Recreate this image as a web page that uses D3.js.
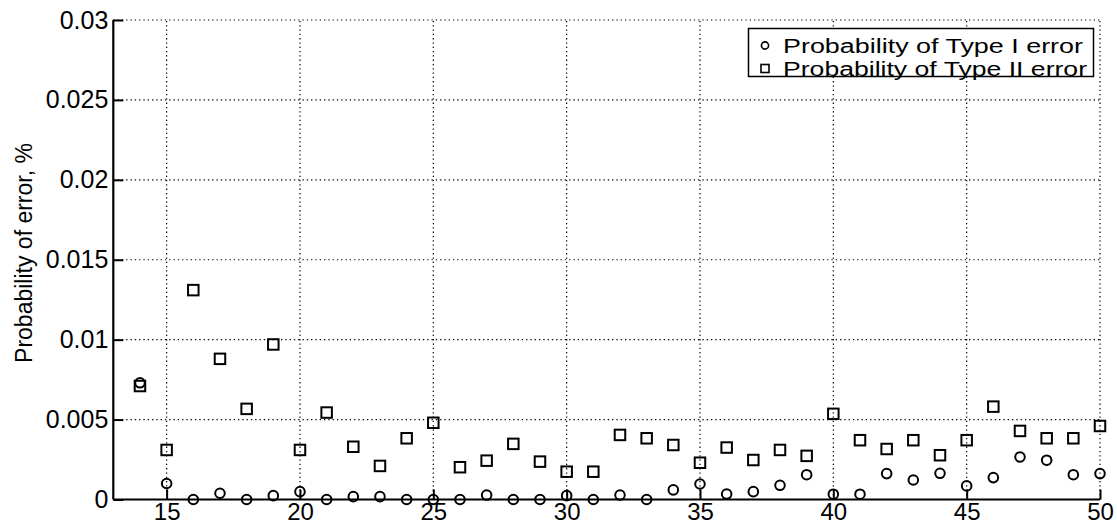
<!DOCTYPE html>
<html>
<head>
<meta charset="utf-8">
<script src="https://cdn.jsdelivr.net/npm/d3@7"></script>
<style>
  html, body { margin: 0; padding: 0; background: #fff; }
  svg { display: block; }
  text { font-family: "Liberation Sans", Arial, Helvetica, sans-serif; fill: #000; }
</style>
</head>
<body>
<svg id="chart" width="1117" height="525"></svg>
<script>
const nValues = [14,15,16,17,18,19,20,21,22,23,24,25,26,27,28,29,30,31,32,33,34,35,36,37,38,39,40,41,42,43,44,45,46,47,48,49,50];
const typeI = [0.0073,0.0010,0.0000,0.00039,0.0000,0.00024,0.00049,0.0000,0.00018,0.00018,0.0000,0.0000,
               0.0000,0.00028,0.0000,0.0000,0.00024,0.0000,0.00028,0.0000,0.0006,0.00097,0.00034,0.00049,
               0.00089,0.00155,0.00033,0.00033,0.00162,0.00122,0.00164,0.00085,0.00137,0.00266,0.00246,0.00155,0.00162];
const typeII = [0.0071,0.0031,0.0131,0.0088,0.00567,0.0097,0.0031,0.00544,0.0033,0.0021,0.00383,0.0048,
                0.00202,0.00243,0.00348,0.00237,0.00174,0.00174,0.00404,0.00383,0.00341,0.0023,0.00325,0.00247,
                0.0031,0.00273,0.00536,0.00371,0.00316,0.00371,0.00277,0.00371,0.00581,0.00429,0.00383,0.00383,0.0046];
const xTicks = [15,20,25,30,35,40,45,50];
const yTicks = [0,0.005,0.01,0.015,0.02,0.025,0.03];
const yTickLabels = ["0","0.005","0.01","0.015","0.02","0.025","0.03"];
const seriesNames = ["Probability of Type I error","Probability of Type II error"];
const yLabel = "Probability of error, %";

const svg = d3.select("#chart");
const L = 113.3, R = 1100, T = 20, B = 499.5;
const x = d3.scaleLinear().domain([13, 50]).range([L, R]);
const y = d3.scaleLinear().domain([0, 0.03]).range([B, T]);

// grid
const grid = svg.append("g").attr("stroke", "#000").attr("stroke-width", 1.2).attr("stroke-dasharray", "1.3,3");
grid.selectAll("line.vx").data(xTicks).enter().append("line")
  .attr("x1", d => x(d)).attr("x2", d => x(d)).attr("y1", B).attr("y2", T);
grid.selectAll("line.hy").data(yTicks.filter(d => d > 0)).enter().append("line")
  .attr("x1", L).attr("x2", R).attr("y1", d => y(d)).attr("y2", d => y(d));

// axes
const xAxis = d3.axisBottom(x).tickValues(xTicks).tickSize(-10).tickPadding(3).tickFormat(d3.format("d"));
const gx = svg.append("g").attr("transform", `translate(0,${B})`).call(xAxis);
gx.select(".domain").attr("d", `M${L},0H${R}`).attr("stroke-width", 2.2);
gx.selectAll(".tick line").attr("stroke-width", 2);
gx.selectAll(".tick text").attr("font-size", 24).attr("font-family", '"Liberation Sans", Arial, sans-serif').attr("dy", "0.72em");

const yAxis = d3.axisLeft(y).tickValues(yTicks).tickSize(-10).tickPadding(5).tickFormat((d, i) => yTickLabels[i]);
const gy = svg.append("g").attr("transform", `translate(${L},0)`).call(yAxis);
gy.select(".domain").attr("d", `M0,${T}V${B}`).attr("stroke-width", 2.2);
gy.selectAll(".tick line").attr("stroke-width", 2);
gy.selectAll(".tick text").attr("font-size", 25).attr("font-family", '"Liberation Sans", Arial, sans-serif');

// y label
svg.append("text")
  .attr("transform", `translate(32,253) rotate(-90)`)
  .attr("text-anchor", "middle")
  .attr("font-size", 23)
  .text(yLabel);

// markers
const ptsI = nValues.map((n, i) => ({ n, v: typeI[i] }));
const ptsII = nValues.map((n, i) => ({ n, v: typeII[i] }));
svg.append("g").selectAll("circle").data(ptsI).enter().append("circle")
  .attr("cx", d => x(d.n)).attr("cy", d => y(d.v)).attr("r", 4.8)
  .attr("fill", "none").attr("stroke", "#000").attr("stroke-width", 2);
const s = 10.5;
svg.append("g").selectAll("rect").data(ptsII).enter().append("rect")
  .attr("x", d => x(d.n) - s / 2).attr("y", d => y(d.v) - s / 2).attr("width", s).attr("height", s)
  .attr("fill", "none").attr("stroke", "#000").attr("stroke-width", 2);

// legend
const lg = svg.append("g");
lg.append("rect").attr("x", 748.5).attr("y", 28.5).attr("width", 345).attr("height", 48)
  .attr("fill", "#fff").attr("stroke", "#000").attr("stroke-width", 1.5);
const rows = [45.5, 68.5];
const rowLens = [300, 304];
lg.append("circle").attr("cx", 765).attr("cy", rows[0]).attr("r", 3.6)
  .attr("fill", "none").attr("stroke", "#000").attr("stroke-width", 1.6);
lg.append("rect").attr("x", 761).attr("y", rows[1] - 4).attr("width", 8).attr("height", 8)
  .attr("fill", "none").attr("stroke", "#000").attr("stroke-width", 1.6);
lg.selectAll("text.lt").data(seriesNames).enter().append("text")
  .attr("x", 783).attr("y", (d, i) => rows[i]).attr("dy", "0.35em")
  .attr("font-size", 20)
  .attr("textLength", (d, i) => rowLens[i]).attr("lengthAdjust", "spacingAndGlyphs")
  .text(d => d);
</script>
</body>
</html>
